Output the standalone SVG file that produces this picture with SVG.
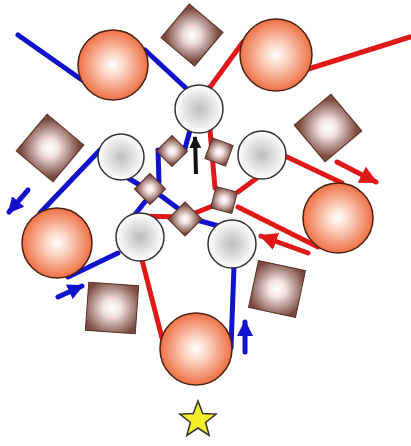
<svg xmlns="http://www.w3.org/2000/svg" width="411" height="446" viewBox="0 0 411 446">
<defs>
<radialGradient id="gOrange" cx="50%" cy="50%" r="50%">
<stop offset="0" stop-color="#ffffff"/>
<stop offset="0.35" stop-color="#fbd2c0"/>
<stop offset="1" stop-color="#ee7045"/>
</radialGradient>
<radialGradient id="gGray" cx="50%" cy="50%" r="50%">
<stop offset="0" stop-color="#bdbdbd"/>
<stop offset="1" stop-color="#ffffff"/>
</radialGradient>
<radialGradient id="gBrown" cx="50%" cy="50%" r="60%">
<stop offset="0" stop-color="#ffffff"/>
<stop offset="0.3" stop-color="#f2e2e0"/>
<stop offset="1" stop-color="#7a4a40"/>
</radialGradient>
<marker id="aBlue" markerUnits="userSpaceOnUse" markerWidth="18" markerHeight="18" refX="14" refY="9" orient="auto">
<path d="M0,1 L16,9 L0,17 Z" fill="#1212cc"/>
</marker>
<marker id="aRed" markerUnits="userSpaceOnUse" markerWidth="20" markerHeight="20" refX="16" refY="10" orient="auto">
<path d="M0,1 L18,10 L0,19 Z" fill="#e01818"/>
</marker>
<marker id="aBlack" markerUnits="userSpaceOnUse" markerWidth="14" markerHeight="14" refX="11" refY="7" orient="auto">
<path d="M0,1 L12,7 L0,13 Z" fill="#111"/>
</marker>
</defs>
<style>
.b{stroke:#1212cc;stroke-width:5;fill:none;stroke-linecap:round}
.r{stroke:#e01818;stroke-width:5;fill:none;stroke-linecap:round}
.k{stroke:#111;stroke-width:4;fill:none}
.sph{fill:url(#gOrange);stroke:#4a2010;stroke-width:1.5}
.gc{fill:url(#gGray);stroke:#333;stroke-width:1.5}
.dm{fill:url(#gBrown);stroke:#5a3028;stroke-width:1}
</style>
<rect width="411" height="446" fill="#ffffff"/>
<g id="connectors">
<line class="b" x1="18" y1="35" x2="82" y2="80"/>
<line class="b" x1="145" y1="50" x2="188" y2="90"/>
<line class="b" x1="192" y1="123" x2="184" y2="152"/>
<line class="b" x1="158" y1="150" x2="159" y2="182"/>
<line class="b" x1="123" y1="175" x2="143" y2="187"/>
<line class="b" x1="148" y1="198" x2="133" y2="217"/>
<line class="b" x1="160" y1="195" x2="180" y2="210"/>
<line class="b" x1="197" y1="220" x2="222" y2="227"/>
<line class="b" x1="234" y1="266" x2="231" y2="348"/>
<line class="b" x1="118" y1="253" x2="68" y2="277"/>
<line class="b" x1="100" y1="150" x2="40" y2="213"/>
<line class="b" x1="28" y1="190" x2="9" y2="212" marker-end="url(#aBlue)"/>
<line class="b" x1="58" y1="297" x2="82" y2="286" marker-end="url(#aBlue)"/>
<line class="b" x1="245" y1="352" x2="245" y2="322" marker-end="url(#aBlue)"/>
<line class="r" x1="410" y1="37" x2="305" y2="70"/>
<line class="r" x1="243" y1="42" x2="208" y2="90"/>
<line class="r" x1="210" y1="130" x2="215" y2="188"/>
<line class="r" x1="257" y1="178" x2="238" y2="192"/>
<line class="r" x1="283" y1="155" x2="342" y2="183"/>
<line class="r" x1="337" y1="162" x2="376" y2="182" marker-end="url(#aRed)"/>
<line class="r" x1="238" y1="207" x2="318" y2="247"/>
<line class="r" x1="308" y1="253" x2="261" y2="236" marker-end="url(#aRed)"/>
<polyline class="r" points="133,216 185,217 215,205"/>
<line class="r" x1="142" y1="260" x2="163" y2="342"/>
<line class="k" x1="196" y1="174" x2="195" y2="137" marker-end="url(#aBlack)"/>
</g>
<g id="sphere-top-left"><circle class="sph" cx="113" cy="65" r="35"/></g>
<g id="sphere-top-right"><circle class="sph" cx="276" cy="55" r="36"/></g>
<g id="sphere-left"><circle class="sph" cx="57" cy="243" r="35"/></g>
<g id="sphere-right"><circle class="sph" cx="338" cy="218" r="35"/></g>
<g id="sphere-bottom"><circle class="sph" cx="196" cy="349" r="36"/></g>
<g id="circle-top"><circle class="gc" cx="199" cy="109" r="24"/></g>
<g id="circle-left"><circle class="gc" cx="121" cy="157" r="23"/></g>
<g id="circle-right"><circle class="gc" cx="262" cy="155" r="24"/></g>
<g id="circle-lower-left"><circle class="gc" cx="140" cy="237" r="24"/></g>
<g id="circle-lower-right"><circle class="gc" cx="232" cy="244" r="24"/></g>
<g id="diamond-top"><rect class="dm" x="-22" y="-22" width="44" height="44" transform="translate(192,35) rotate(40)"/></g>
<g id="diamond-left"><rect class="dm" x="-24" y="-24" width="48" height="48" transform="translate(50,148) rotate(40)"/></g>
<g id="diamond-right"><rect class="dm" x="-24" y="-24" width="48" height="48" transform="translate(328,128) rotate(-40)"/></g>
<g id="square-bottom-left"><rect class="dm" x="-25" y="-24" width="50" height="48" transform="translate(112,308) rotate(4)"/></g>
<g id="square-bottom-right"><rect class="dm" x="-24" y="-24" width="48" height="48" transform="translate(277,289) rotate(12)"/></g>
<g id="small-1"><rect class="dm" x="-11" y="-11" width="22" height="22" transform="translate(172,151) rotate(45)"/></g>
<g id="small-2"><rect class="dm" x="-11" y="-11" width="22" height="22" transform="translate(219,152) rotate(20)"/></g>
<g id="small-3"><rect class="dm" x="-11" y="-11" width="22" height="22" transform="translate(150,189) rotate(45)"/></g>
<g id="small-4"><rect class="dm" x="-12" y="-12" width="24" height="24" transform="translate(185,219) rotate(45)"/></g>
<g id="small-5"><rect class="dm" x="-11" y="-11" width="22" height="22" transform="translate(224,200) rotate(15)"/></g>
<g id="star"><polygon points="198,401 202.7,413.5 216.1,414.1 205.6,422.5 209.2,435.4 198,428 186.8,435.4 190.4,422.5 179.9,414.1 193.3,413.5" fill="#f5ee2a" stroke="#333" stroke-width="1.5"/></g>
</svg>
